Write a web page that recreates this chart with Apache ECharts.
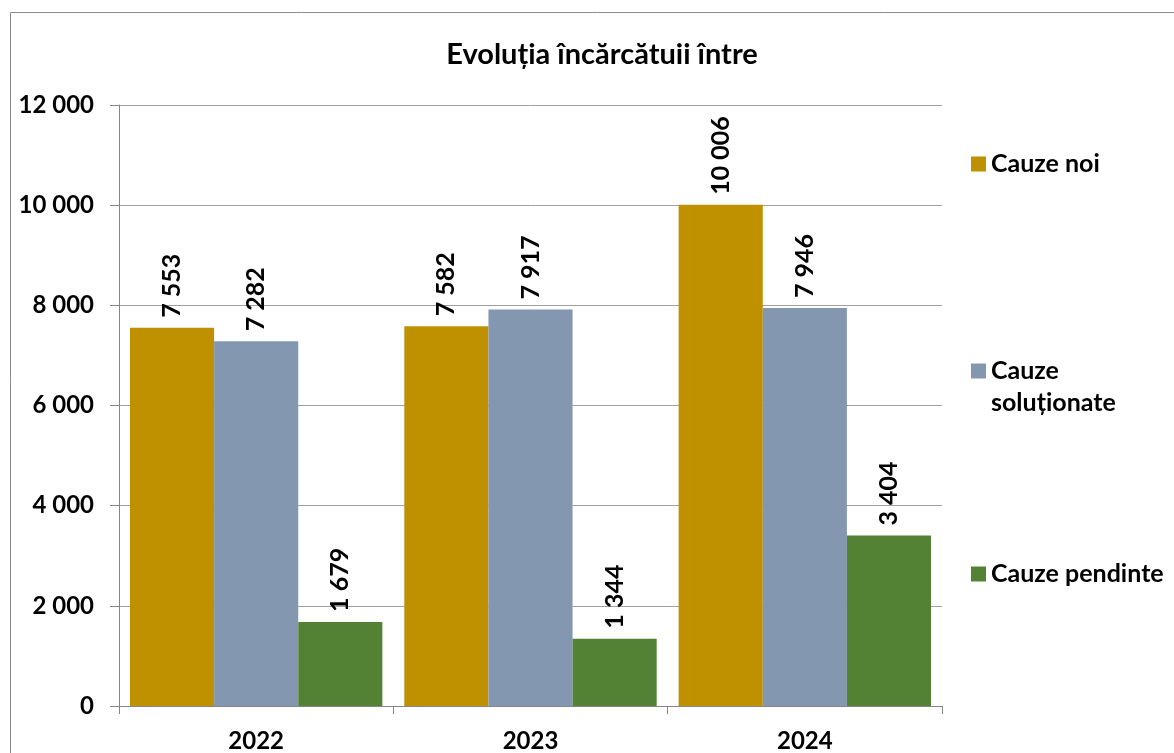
<!DOCTYPE html>
<html>
<head>
<meta charset="utf-8">
<script src="https://cdn.jsdelivr.net/npm/echarts@6/dist/echarts.min.js"></script>
<style>
  html, body { margin: 0; padding: 0; background: #fff; }
  #chart { width: 1174px; height: 753px; }
</style>
</head>
<body>
<div id="chart"></div>
<script>
var years = ['2022', '2023', '2024'];
var cauzeNoi = [7553, 7582, 10006];
var cauzeSolutionate = [7282, 7917, 7946];
var cauzePendinte = [1679, 1344, 3404];
var seriesNames = ['Cauze noi', 'Cauze soluționate', 'Cauze pendinte'];
var colors = ['#bf9000', '#8497b0', '#548235'];

var FONT = 'Lato';

// 12000 -> "12 000"
function fmt(v) {
    return String(v).replace(/\B(?=(\d{3})+(?!\d))/g, ' ');
}

var myChart = echarts.init(document.getElementById('chart'));

var labelOpt = {
    show: true,
    position: 'top',
    rotate: 90,
    align: 'left',
    verticalAlign: 'middle',
    distance: 10,
    color: '#000',
    fontFamily: FONT,
    fontWeight: 'bold',
    fontSize: 25,
    formatter: function (p) { return fmt(p.value); }
};

function makeSeries(i, data) {
    return {
        name: seriesNames[i],
        type: 'bar',
        data: data,
        barGap: '0%',
        barCategoryGap: '8%',
        itemStyle: { color: colors[i] },
        label: labelOpt,
        emphasis: { disabled: true }
    };
}

function makeLegend(i, top, text) {
    return {
        data: [seriesNames[i]],
        left: 966,
        top: top,
        orient: 'vertical',
        icon: 'rect',
        itemWidth: 15,
        itemHeight: 15,
        selectedMode: false,
        formatter: function () { return text; },
        textStyle: {
            color: '#000',
            fontFamily: FONT,
            fontWeight: 'bold',
            fontSize: 25,
            lineHeight: 32
        }
    };
}

option = {
    animation: false,
    backgroundColor: '#fff',
    title: {
        text: 'Evoluția încărcătuii între',
        left: 597,
        top: 35,
        textAlign: 'center',
        textStyle: {
            fontFamily: FONT,
            fontWeight: 'bold',
            fontSize: 29,
            color: '#000'
        }
    },
    graphic: [{
        type: 'rect',
        shape: { x: 10.5, y: 12.5, width: 1200, height: 800 },
        style: { fill: 'none', stroke: '#8c8c8c', lineWidth: 1 },
        silent: true,
        z: -1
    }],
    legend: [
        makeLegend(0, 143, 'Cauze noi'),
        // leading empty line keeps the icon level with "Cauze"
        makeLegend(1, 318, '\nCauze\nsoluționate'),
        makeLegend(2, 553, 'Cauze pendinte')
    ],
    grid: {
        left: 119,
        right: 232,
        top: 105,
        bottom: 46,
        containLabel: false
    },
    xAxis: {
        type: 'category',
        data: years,
        axisLine: { lineStyle: { color: '#868686' } },
        axisTick: { show: true, alignWithLabel: false, length: 8, lineStyle: { color: '#868686' } },
        axisLabel: {
            margin: 23,
            color: '#000',
            fontFamily: FONT,
            fontWeight: 'bold',
            fontSize: 24
        }
    },
    yAxis: {
        type: 'value',
        min: 0,
        max: 12000,
        interval: 2000,
        axisLine: { show: true, lineStyle: { color: '#868686' } },
        axisTick: { show: true, length: 9, lineStyle: { color: '#868686' } },
        splitLine: { lineStyle: { color: '#a0a0a0' } },
        axisLabel: {
            margin: 25,
            color: '#000',
            fontFamily: FONT,
            fontWeight: 'bold',
            fontSize: 24,
            formatter: function (v) { return fmt(v); }
        }
    },
    series: [
        makeSeries(0, cauzeNoi),
        makeSeries(1, cauzeSolutionate),
        makeSeries(2, cauzePendinte)
    ]
};
myChart.setOption(option);
</script>
</body>
</html>
